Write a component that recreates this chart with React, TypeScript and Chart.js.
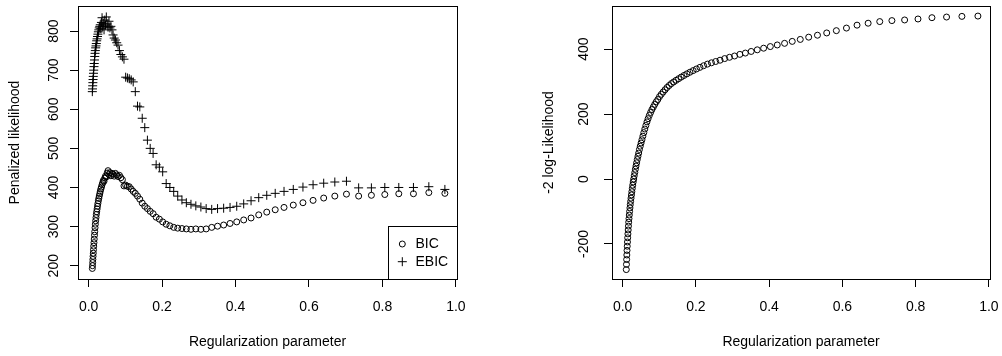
import React, { useEffect, useRef } from "react";
import { Chart, registerables } from "chart.js";

Chart.register(...registerables);

// Regularization parameter grid
const lambda = [
  0.0100, 0.0105, 0.0110, 0.0115, 0.0120, 0.0126, 0.0132, 0.0138, 0.0145, 0.0152,
  0.0159, 0.0166, 0.0174, 0.0182, 0.0191, 0.0200, 0.0209, 0.0219, 0.0230, 0.0241,
  0.0252, 0.0264, 0.0276, 0.0289, 0.0303, 0.0317, 0.0332, 0.0348, 0.0365, 0.0382,
  0.0400, 0.0419, 0.0439, 0.0459, 0.0481, 0.0504, 0.0528, 0.0553, 0.0579, 0.0606,
  0.0635, 0.0665, 0.0696, 0.0729, 0.0764, 0.0800, 0.0838, 0.0877, 0.0919, 0.0962,
  0.1008, 0.1056, 0.1106, 0.1158, 0.1213, 0.1270, 0.1330, 0.1393, 0.1459, 0.1528,
  0.1600, 0.1676, 0.1755, 0.1838, 0.1925, 0.2016, 0.2111, 0.2211, 0.2316, 0.2425,
  0.2540, 0.2660, 0.2786, 0.2918, 0.3056, 0.3200, 0.3351, 0.3510, 0.3676, 0.3850,
  0.4032, 0.4222, 0.4422, 0.4631, 0.4850, 0.5080, 0.5320, 0.5572, 0.5835, 0.6111,
  0.6400, 0.6703, 0.7020, 0.7352, 0.7699, 0.8064, 0.8445, 0.8844, 0.9263, 0.9700,
];

const bic = [
  193, 200, 208, 216, 224, 232, 241, 250, 259, 268,
  278, 287, 297, 306, 315, 323, 331, 338, 345, 352,
  359, 366, 372, 378, 384, 390, 396, 401, 407, 412,
  418, 416, 424, 429, 427, 437, 443, 433, 438, 430,
  436, 434, 429, 436, 432, 428, 431, 425, 420, 404,
  406, 403, 402, 396, 390, 385, 378, 370, 360, 352,
  346, 339, 333, 324, 319, 312, 306, 302, 298, 296,
  295, 294, 293, 294, 293, 294, 298, 301, 304, 308,
  312, 317, 322, 330, 337, 343, 349, 355, 361, 367,
  373, 378, 383, 378, 380, 382, 384, 384, 387, 385,
];

const ebic = [
  645, 652, 660, 668, 676, 684, 692, 700, 709, 717,
  726, 735, 743, 750, 757, 762, 768, 775, 780, 786,
  792, 798, 803, 808, 812, 816, 806, 822, 834, 812,
  820, 803, 828, 815, 836, 818, 810, 825, 808, 812,
  803, 790, 782, 777, 770, 764, 750, 740, 734, 728,
  682, 680, 678, 675, 670, 645, 608, 606, 577, 553,
  521, 500, 487, 458, 452, 440, 410, 400, 390, 378,
  368, 361, 357, 353, 350, 346, 344, 346, 347, 349,
  352, 358, 366, 374, 380, 385, 390, 395, 401, 407,
  411, 414, 416, 399, 399, 400, 400, 400, 402, 395,
];

const negTwoLogLik = [
  -279, -263, -248, -234, -220, -207, -194, -181, -169, -157,
  -145, -133, -122, -111, -100, -89, -79, -69, -59, -49,
  -39, -29, -19, -9, 0, 10, 20, 30, 40, 50,
  60, 70, 80, 91, 101, 111, 121, 132, 143, 154,
  165, 176, 186, 196, 205, 214, 222, 230, 238, 245,
  254, 261, 268, 275, 282, 288, 294, 299, 304, 309,
  314, 319, 324, 329, 334, 339, 344, 349, 354, 358,
  362, 366, 371, 375, 379, 384, 388, 393, 398, 403,
  408, 413, 418, 424, 430, 437, 443, 450, 457, 465,
  474, 480, 485, 488, 490, 493, 497, 499, 501, 502,
];

const xTicks = [0, 0.2, 0.4, 0.6, 0.8, 1.0];
const leftYTicks = [200, 300, 400, 500, 600, 700, 800];
const rightYTicks = [-200, 0, 200, 400];
const legendLabels = ["BIC", "EBIC"];
const xTitle = "Regularization parameter";
const leftYTitle = "Penalized likelihood";
const rightYTitle = "-2 log-Likelihood";

const FONT = "'Liberation Sans', Arial, Helvetica, sans-serif";
const INK = "#000";

const boxPlugin = {
  id: "rbox",
  afterDraw(chart: any) {
    const { ctx, chartArea: a } = chart;
    ctx.save();
    ctx.strokeStyle = INK;
    ctx.lineWidth = 1;
    const l = a.left + 0.5;
    const t = a.top + 0.5;
    const r = a.right + 0.5;
    const b = a.bottom + 0.5;
    ctx.strokeRect(l, t, r - l, b - t);
    ctx.restore();
  },
};

const legendPlugin = {
  id: "rlegend",
  afterDraw(chart: any) {
    const { ctx, chartArea: a } = chart;
    ctx.save();
    ctx.strokeStyle = INK;
    ctx.fillStyle = INK;
    ctx.lineWidth = 1;
    const bx = a.right - 69 + 0.5;
    const by = a.bottom - 53 + 0.5;
    ctx.strokeRect(bx, by, a.right + 0.5 - bx, a.bottom + 0.5 - by);
    const sx = a.right - 54.7;
    const rows = [a.bottom - 35, a.bottom - 17.3];
    // circle symbol
    ctx.beginPath();
    ctx.arc(sx, rows[0], 3, 0, Math.PI * 2);
    ctx.stroke();
    // plus symbol
    ctx.beginPath();
    ctx.moveTo(sx - 4.5, rows[1]);
    ctx.lineTo(sx + 4.5, rows[1]);
    ctx.moveTo(sx, rows[1] - 4.5);
    ctx.lineTo(sx, rows[1] + 4.5);
    ctx.stroke();
    ctx.font = `14px ${FONT}`;
    ctx.textAlign = "left";
    ctx.textBaseline = "middle";
    legendLabels.forEach((lab, i) => {
      ctx.fillText(lab, a.right - 41.5, rows[i] + 0.5);
    });
    ctx.restore();
  },
};

function makeOptions(cfg: {
  yMin: number;
  yMax: number;
  yTicks: number[];
  yTitle: string;
  yWidth: number;
  yTitlePad: number;
  yTickPad: number;
  padRight: number;
}) {
  return {
    responsive: false,
    animation: false,
    events: [],
    layout: { padding: { left: 0, top: 6, right: cfg.padRight, bottom: 0 } },
    plugins: { legend: { display: false }, tooltip: { enabled: false } },
    scales: {
      x: {
        type: "linear",
        min: -0.029,
        max: 1.003,
        afterBuildTicks: (s: any) => {
          s.ticks = xTicks.map((v) => ({ value: v }));
        },
        afterFit: (s: any) => {
          s.height = 77;
          s.paddingLeft = 0;
          s.paddingRight = 0;
        },
        grid: { drawOnChartArea: false, drawTicks: true, tickLength: 8, color: INK, lineWidth: 1 },
        border: { display: false },
        ticks: {
          padding: 12,
          color: INK,
          autoSkip: false,
          maxRotation: 0,
          minRotation: 0,
          font: { family: FONT, size: 14 },
          callback: (v: any) => Number(v).toFixed(1),
        },
        title: {
          display: true,
          text: xTitle,
          color: INK,
          font: { family: FONT, size: 14 },
          padding: { top: 0, bottom: 5 },
        },
      },
      y: {
        type: "linear",
        min: cfg.yMin,
        max: cfg.yMax,
        afterBuildTicks: (s: any) => {
          s.ticks = cfg.yTicks.map((v) => ({ value: v }));
        },
        afterFit: (s: any) => {
          s.width = cfg.yWidth;
          s.paddingTop = 0;
          s.paddingBottom = 0;
        },
        grid: { drawOnChartArea: false, drawTicks: true, tickLength: 8, color: INK, lineWidth: 1 },
        border: { display: false },
        ticks: {
          padding: cfg.yTickPad,
          color: INK,
          autoSkip: false,
          minRotation: 90,
          maxRotation: 90,
          crossAlign: "center",
          font: { family: FONT, size: 14 },
          callback: (v: any) => String(v),
        },
        title: {
          display: true,
          text: cfg.yTitle,
          color: INK,
          font: { family: FONT, size: 14 },
          padding: { top: cfg.yTitlePad, bottom: 0 },
        },
      },
    },
  };
}

export default function App() {
  const leftRef = useRef<HTMLCanvasElement | null>(null);
  const rightRef = useRef<HTMLCanvasElement | null>(null);

  useEffect(() => {
    const circle = {
      pointStyle: "circle",
      pointRadius: 3,
      pointBorderWidth: 1,
      pointBorderColor: INK,
      pointBackgroundColor: "rgba(0,0,0,0)",
      showLine: false,
    };
    const left = new Chart(leftRef.current as HTMLCanvasElement, {
      type: "scatter",
      data: {
        datasets: [
          {
            label: legendLabels[0],
            data: lambda.map((x, i) => ({ x, y: bic[i] })),
            ...circle,
          },
          {
            label: legendLabels[1],
            data: lambda.map((x, i) => ({ x, y: ebic[i] })),
            pointStyle: "cross",
            pointRadius: 4.5,
            pointBorderWidth: 1,
            pointBorderColor: INK,
            pointBackgroundColor: INK,
            showLine: false,
          },
        ],
      },
      options: makeOptions({
        yMin: 166,
        yMax: 864,
        yTicks: leftYTicks,
        yTitle: leftYTitle,
        yWidth: 78,
        yTitlePad: 7,
        yTickPad: 4,
        padRight: 44,
      }) as any,
      plugins: [boxPlugin, legendPlugin],
    } as any);

    const right = new Chart(rightRef.current as HTMLCanvasElement, {
      type: "scatter",
      data: {
        datasets: [
          {
            label: rightYTitle,
            data: lambda.map((x, i) => ({ x, y: negTwoLogLik[i] })),
            ...circle,
          },
        ],
      },
      options: makeOptions({
        yMin: -308,
        yMax: 533,
        yTicks: rightYTicks,
        yTitle: rightYTitle,
        yWidth: 111,
        yTitlePad: 40,
        yTickPad: 6,
        padRight: 12,
      }) as any,
      plugins: [boxPlugin],
    } as any);

    return () => {
      left.destroy();
      right.destroy();
    };
  }, []);

  return (
    <div
      style={{
        position: "absolute",
        left: 0,
        top: 0,
        width: 1002,
        height: 356,
        overflow: "hidden",
        background: "#fff",
      }}
    >
      <canvas
        ref={leftRef}
        width={501}
        height={356}
        style={{ position: "absolute", left: 0, top: 0, width: 501, height: 356 }}
      />
      <canvas
        ref={rightRef}
        width={501}
        height={356}
        style={{ position: "absolute", left: 501, top: 0, width: 501, height: 356 }}
      />
    </div>
  );
}
